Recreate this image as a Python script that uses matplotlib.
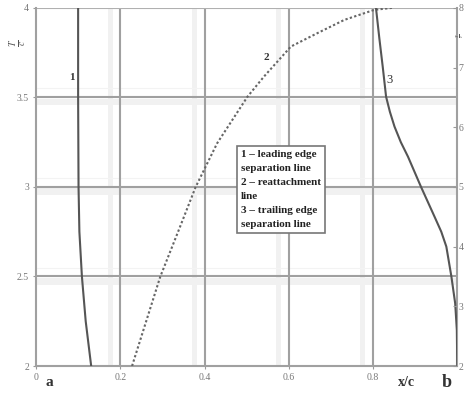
import numpy as np
import matplotlib.pyplot as plt

plt.rcParams['font.family'] = ['Liberation Serif', 'DejaVu Serif']
plt.rcParams['mathtext.fontset'] = 'stix'

# 1 - leading edge separation line
sep_lead_x = [0.100, 0.100, 0.101, 0.103, 0.109, 0.118, 0.131]
sep_lead_y = [4.0, 3.5, 3.0, 2.75, 2.5, 2.25, 2.0]

# 2 - reattachment line
reatt_x = [0.228, 0.295, 0.339, 0.379, 0.430, 0.502, 0.541, 0.605, 0.668, 0.732, 0.803, 0.845]
reatt_y = [2.0, 2.499, 2.76, 3.0, 3.244, 3.504, 3.616, 3.784, 3.859, 3.933, 3.989, 4.0]

# 3 - trailing edge separation line
sep_trail_x = [0.807, 0.815, 0.823, 0.831, 0.840, 0.851, 0.866, 0.883, 0.914, 0.946, 0.962, 0.974, 0.986, 0.995, 0.999, 1.0]
sep_trail_y = [4.0, 3.83, 3.672, 3.504, 3.42, 3.337, 3.25, 3.169, 3.0, 2.834, 2.75, 2.667, 2.5, 2.35, 2.2, 2.0]

x_ticks = [0, 0.2, 0.4, 0.6, 0.8]
x_labels = ['0', '0.2', '0.4', '0.6', '0.8']
y_ticks = [2, 2.5, 3, 3.5, 4]
y_labels = ['2', '2.5', '3', '3.5', '4']
right_ticks = [2, 3, 4, 5, 6, 7, 8]

fig = plt.figure(figsize=(4.65, 3.94), dpi=100)
ax = fig.add_axes([0.0774, 0.071, 0.906, 0.909])
ax.set_xlim(0, 1.0)
ax.set_ylim(2, 4)

# grid with pale shadow bands
for xv in x_ticks[1:]:
    ax.axvspan(xv - 0.03, xv - 0.018, color='#f1f1f1', lw=0, zorder=0)
    ax.axvline(xv, color='#a0a0a0', lw=1.5, zorder=1)
for yv in y_ticks[1:-1]:
    ax.axhspan(yv - 0.045, yv - 0.008, color='#f1f1f1', lw=0, zorder=0)
    ax.axhline(yv, color='#a0a0a0', lw=1.5, zorder=1)
ax.axhline(4, color='#b0b0b0', lw=1.5, zorder=1)
for yv in [3.55, 3.05, 2.55]:
    ax.axhline(yv, color='#f3f3f3', lw=0.8, zorder=0)

ax.plot(sep_lead_x, sep_lead_y, color='#555555', lw=1.5, zorder=3)
ax.plot(reatt_x, reatt_y, color='#666666', lw=1.5, ls=(0, (1.1, 1.1)), zorder=3)
ax.plot(sep_trail_x, sep_trail_y, color='#555555', lw=1.5, zorder=3)

ax.text(0.079, 3.6, '1', fontsize=8, color='#333333', fontweight='bold')
ax.text(0.54, 3.71, '2', fontsize=8, color='#333333', fontweight='bold')
ax.text(0.832, 3.58, '3', fontsize=9, color='#333333')

ax.text(0.487, 3.205,
        '1 – leading edge\nseparation line\n2 – reattachment\nline\n3 – trailing edge\nseparation line',
        fontsize=8, fontweight='bold', color='#222222', va='top', ha='left',
        linespacing=1.7,
        bbox=dict(boxstyle='square,pad=0.35', fc='white', ec='#777777', lw=1.2),
        zorder=4)

ax.spines['top'].set_visible(False)
for s in ['left', 'bottom', 'right']:
    ax.spines[s].set_color('#a0a0a0')
    ax.spines[s].set_linewidth(1.5)

ax.set_xticks(x_ticks)
ax.set_xticklabels(x_labels)
ax.set_yticks(y_ticks)
ax.set_yticklabels(y_labels)
ax.tick_params(axis='both', length=2, color='#999999', labelsize=7,
               labelcolor='#777777', pad=3)

ax2 = ax.twinx()
ax2.set_ylim(2, 8)
ax2.set_yticks(right_ticks)
ax2.tick_params(axis='y', direction='in', length=3, color='#999999',
                labelsize=7, labelcolor='#777777', pad=1)
for s in ax2.spines.values():
    s.set_visible(False)

fig.text(0.04, 0.89, r'$\frac{T}{c}$', rotation=90, fontsize=10,
         color='#555555', ha='center', va='center')
fig.text(0.989, 0.91, r'$\frac{T}{c}$', rotation=90, fontsize=5,
         color='#555555', ha='center', va='center')
fig.text(0.107, 0.028, 'a', fontsize=11, fontweight='bold', color='#333333',
         ha='center', va='center')
fig.text(0.875, 0.03, 'x/c', fontsize=10, fontweight='bold', color='#333333',
         ha='center', va='center')
fig.text(0.96, 0.03, 'b', fontsize=13, fontweight='bold', color='#333333',
         ha='center', va='center')

fig.savefig('out.png', dpi=100, facecolor='white')
